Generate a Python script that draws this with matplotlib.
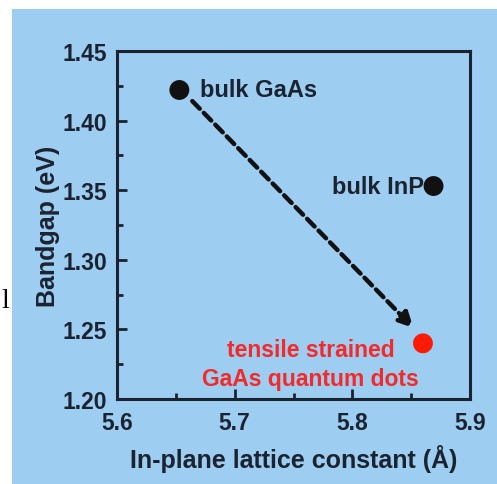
import matplotlib
matplotlib.use("Agg")
import matplotlib.pyplot as plt
from matplotlib.patches import Rectangle
from matplotlib.ticker import MultipleLocator

# data
labels = ["bulk GaAs", "bulk InP", "tensile strained\nGaAs quantum dots"]
lattice = [5.653, 5.869, 5.86]
bandgap = [1.422, 1.353, 1.24]
colors = ["#111111", "#111111", "#ff1a05"]
arrow_start = (5.664, 1.414)
arrow_end = (5.852, 1.251)
xticks = [5.6, 5.7, 5.8, 5.9]
yticks = [1.20, 1.25, 1.30, 1.35, 1.40, 1.45]

W, H = 497, 485
BG = "#9dcdf1"
INK = "#1b2330"
plt.rcParams['font.family'] = ['Liberation Sans', 'DejaVu Sans']
plt.rcParams['font.weight'] = 'bold'

fig = plt.figure(figsize=(W / 100, H / 100), dpi=100, facecolor=BG)
fig.patches.append(Rectangle((0, 0), 12 / W, 1, transform=fig.transFigure,
                             facecolor="white", edgecolor="none", zorder=-10))
fig.patches.append(Rectangle((0, 1 - 10 / H), 1, 10 / H, transform=fig.transFigure,
                             facecolor="white", edgecolor="none", zorder=-10))
fig.text(5 / W, 1 - 302 / H, "l", family="Liberation Serif", fontsize=20, color="black",
         ha="center", va="center", fontweight="normal")

ax = fig.add_axes([117 / W, 1 - 400 / H, (470 - 117) / W, (400 - 52) / H])
ax.set_facecolor(BG)
ax.set_xlim(5.6, 5.9)
ax.set_ylim(1.20, 1.45)
ax.set_xticks(xticks)
ax.set_yticks(yticks)
ax.set_xticklabels([f"{v:.1f}" for v in xticks])
ax.set_yticklabels([f"{v:.2f}" for v in yticks])
ax.xaxis.set_minor_locator(MultipleLocator(0.05))
ax.yaxis.set_minor_locator(MultipleLocator(0.025))
ax.tick_params(which="both", direction="in", colors=INK, width=2)
ax.tick_params(which="major", length=7, labelsize=16.5)
ax.tick_params(axis="y", which="major", pad=7)
ax.tick_params(axis="x", which="major", pad=9)
ax.tick_params(which="minor", length=4)
ax.tick_params(top=False, right=False)
for s in ax.spines.values():
    s.set_linewidth(2.2)
    s.set_color(INK)
ax.set_xlabel("In-plane lattice constant (Å)", fontsize=18, fontweight="bold", color=INK, labelpad=7)
ax.set_ylabel("Bandgap (eV)", fontsize=18, fontweight="bold", color=INK, labelpad=2)

ax.scatter(lattice, bandgap, s=205, c=colors, zorder=5, edgecolors="none")

ax.annotate("", xy=arrow_end, xytext=arrow_start,
            arrowprops=dict(arrowstyle="-|>,head_length=0.9,head_width=0.45", linestyle=(0, (2.4, 1.3)),
                            lw=3.2, color="#111111", shrinkA=0, shrinkB=0))

ax.annotate(labels[0], (lattice[0], bandgap[0]), xytext=(15, 0), textcoords="offset points",
            ha="left", va="center", fontsize=17, fontweight="bold", color=INK)
ax.annotate(labels[1], (lattice[1], bandgap[1]), xytext=(-7, 0), textcoords="offset points",
            ha="right", va="center", fontsize=17, fontweight="bold", color=INK)
ax.annotate(labels[2], (lattice[2], bandgap[2]), xytext=(-81, -15), textcoords="offset points",
            ha="center", va="center", fontsize=16.5, fontweight="bold", color="#f22a2a",
            linespacing=1.3)

fig.savefig("out.png", dpi=100, facecolor=BG)
